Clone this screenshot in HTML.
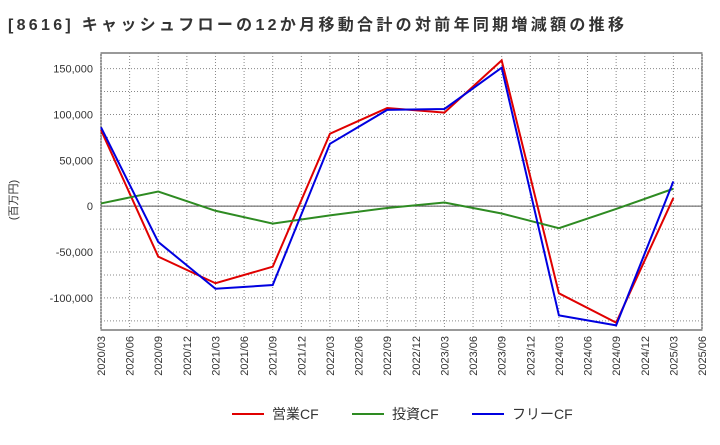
<!DOCTYPE html>
<html><head><meta charset="utf-8"><style>
body{margin:0;background:#fff;font-family:"Liberation Sans","Noto Sans CJK JP",sans-serif;}
</style></head><body>
<svg id="c" width="720" height="440" xmlns="http://www.w3.org/2000/svg">
<text x="8" y="30" font-size="16" font-weight="bold" fill="#333" textLength="616" lengthAdjust="spacing">[8616]  キャッシュフローの12か月移動合計の対前年同期増減額の推移</text>
<text transform="translate(17,200) rotate(-90)" font-size="11" fill="#333" text-anchor="middle">(百万円)</text>
<g id="grid"></g><g id="axes"></g><g id="series"></g>
<g>
<line x1="232" y1="414" x2="264" y2="414" stroke="#e00000" stroke-width="2"/>
<text x="272" y="419" font-size="14" fill="#333">営業CF</text>
<line x1="352" y1="414" x2="384" y2="414" stroke="#2e8b22" stroke-width="2"/>
<text x="392" y="419" font-size="14" fill="#333">投資CF</text>
<line x1="472" y1="414" x2="504" y2="414" stroke="#0000e0" stroke-width="2"/>
<text x="512" y="419" font-size="14" fill="#333">フリーCF</text>
</g>
</svg>
<script>
const xLabels=["2020/03","2020/06","2020/09","2020/12","2021/03","2021/06","2021/09","2021/12","2022/03","2022/06","2022/09","2022/12","2023/03","2023/06","2023/09","2023/12","2024/03","2024/06","2024/09","2024/12","2025/03","2025/06"];
const pointIdx=[0,2,4,6,8,10,12,14,16,18,20];
const operatingCF=[83000,-55000,-84000,-66000,79000,107000,102000,159000,-95000,-127000,9000];
const investingCF=[3000,16000,-5000,-19000,-10000,-2000,4000,-8000,-24000,-3000,19000];
const freeCF=[86000,-39000,-90000,-86000,68000,105000,106000,151000,-119000,-130000,27000];
const yTicks=[150000,100000,50000,0,-50000,-100000];
const L=101,R=702,T=53,B=330,yMax=167000,yMin=-135000;
const NS="http://www.w3.org/2000/svg";
const xs=i=>L+i*(R-L)/(xLabels.length-1);
const ys=v=>T+(yMax-v)/(yMax-yMin)*(B-T);
function mk(t,a,p){const e=document.createElementNS(NS,t);for(const k in a)e.setAttribute(k,a[k]);p.appendChild(e);return e;}
const g=document.getElementById('grid'),ax=document.getElementById('axes'),s=document.getElementById('series');
mk('rect',{x:L,y:T,width:R-L,height:B-T,fill:'#fff',stroke:'#333','stroke-width':1},g);
for(let v=-125000;v<=150000;v+=25000){const l=mk('line',{x1:L,x2:R,y1:ys(v),y2:ys(v),stroke:'#888','stroke-dasharray':'1,2'},g);

}
xLabels.forEach((lb,i)=>{const l=mk('line',{x1:xs(i),x2:xs(i),y1:T,y2:B,stroke:'#888','stroke-dasharray':'1,2'},g);


const t=mk('text',{transform:`translate(${xs(i)+4},${B+6}) rotate(-90)`,'font-size':11,fill:'#333','text-anchor':'end'},ax);t.textContent=lb;

});
mk('line',{x1:L,x2:R,y1:ys(0),y2:ys(0),stroke:'#555','stroke-width':1},g);
yTicks.forEach(v=>{const t=mk('text',{x:L-8,y:ys(v)+4,'font-size':11,fill:'#333','text-anchor':'end'},ax);t.textContent=v.toLocaleString('en-US');

});
[[operatingCF,'#e00000','operating-cf-line'],[investingCF,'#2e8b22','investing-cf-line'],[freeCF,'#0000e0','free-cf-line']].forEach(([d,c,n])=>{
const p=mk('polyline',{points:d.map((v,i)=>xs(pointIdx[i])+','+ys(v)).join(' '),fill:'none',stroke:c,'stroke-width':2},s);

});
</script>
</body></html>
